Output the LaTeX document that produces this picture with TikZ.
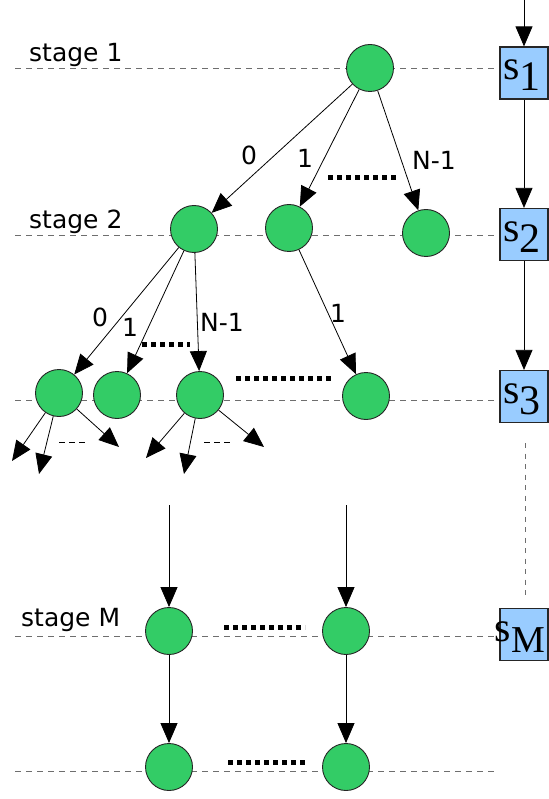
\documentclass[tikz,border=0pt]{standalone}
\usepackage{fontspec}
\setmainfont{DejaVu Sans}
\newfontfamily\boxfont{Liberation Serif}
\usetikzlibrary{arrows.meta}
\definecolor{nodegreen}{RGB}{51,204,102}
\definecolor{boxblue}{RGB}{153,204,255}
\definecolor{linegray}{RGB}{110,110,110}
\tikzset{
  st/.style={circle,draw=black!85,line width=0.9pt,fill=nodegreen,minimum size=47pt,inner sep=0pt},
  sbox/.style={draw=black!85,line width=1.2pt,fill=boxblue,minimum width=48pt,minimum height=52pt,inner sep=0pt},
  arr/.style={-{Triangle[length=20pt,width=17pt]},line width=0.8pt},
  stageline/.style={dashed,dash pattern=on 6pt off 5pt,draw=linegray,line width=1pt},
  dots/.style={line width=5pt,dash pattern=on 5pt off 4pt},
  lbl/.style={font=\fontsize{25}{25}\selectfont,inner sep=0pt},
  slbl/.style={font=\fontsize{25}{25}\selectfont,inner sep=0pt,anchor=west},
  btxt/.style={inner sep=0pt,font=\boxfont\fontsize{42}{42}\selectfont}
}
\begin{document}
\begin{tikzpicture}[x=1pt,y=-1pt]
\useasboundingbox (0,0) rectangle (548,799);
% stage lines
\coordinate (l1a) at (15,69);  \coordinate (l1b) at (500,69);
\coordinate (l2a) at (15,236); \coordinate (l2b) at (500,236);
\coordinate (l3a) at (15,400); \coordinate (l3b) at (500,400);
\coordinate (lMa) at (15,636); \coordinate (lMb) at (500,636);
\coordinate (l5a) at (15,771); \coordinate (l5b) at (497,771);
\draw[stageline] (l1a) -- (l1b);
\draw[stageline] (l2a) -- (l2b);
\draw[stageline] (l3a) -- (l3b);
\draw[stageline] (lMa) -- (lMb);
\draw[stageline] (l5a) -- (l5b);
% stage labels
\node[slbl] (t1) at (29,55) {stage 1};
\node[slbl] (t2) at (29,222) {stage 2};
\node[slbl] (tM) at (21,620) {stage M};
% boxes
\node[sbox] (s1) at (524,73) {};
\node[sbox] (s2) at (524,234.5) {};
\node[sbox] (s3) at (524,396.5) {};
\node[sbox] (sM) at (524,634.5) {};
\node[btxt] (s1t) at (522,75) {s\raisebox{-11pt}{1}};
\node[btxt] (s2t) at (522,237) {s\raisebox{-11pt}{2}};
\node[btxt] (s3t) at (522,399) {s\raisebox{-11pt}{3}};
\node[btxt] (sMt) at (520,637) {s\raisebox{-11pt}{\fontsize{38}{38}\selectfont M}};
\coordinate (top) at (524,0);
\draw[arr] (top) -- (s1.north);
\draw[arr] (s1.south) -- (s2.north);
\draw[arr] (s2.south) -- (s3.north);
\coordinate (vd1) at (525,443);
\coordinate (vd2) at (525,598);
\draw[draw=linegray,line width=1pt,dash pattern=on 5pt off 5.5pt] (vd1) -- (vd2);
% nodes
\node[st] (a) at (370,68) {};
\node[st] (b0) at (194,229) {};
\node[st] (b1) at (289,228) {};
\node[st] (b2) at (426,233) {};
\node[st] (c0) at (59,393) {};
\node[st] (c1) at (117,395) {};
\node[st] (c2) at (200,395) {};
\node[st] (c3) at (366,396) {};
\node[st] (m0) at (169,631) {};
\node[st] (m1) at (346,631) {};
\node[st] (n0) at (169,767) {};
\node[st] (n1) at (346,767) {};
% tree edges
\draw[arr] (a) -- (b0);
\draw[arr] (a) -- (b1);
\draw[arr] (a) -- (b2);
\node[lbl] (la0) at (249,155) {0};
\node[lbl] (la1) at (305,158) {1};
\node[lbl] (la2) at (434,160) {N-1};
\coordinate (da1) at (328,178); \coordinate (da2) at (397,178);
\draw[dots] (da1) -- (da2);
\draw[arr] (b0) -- (c0);
\draw[arr] (b0) -- (c1);
\draw[arr] (b0) -- (c2);
\draw[arr] (b1) -- (c3);
\node[lbl] (lb0) at (100,317) {0};
\node[lbl] (lb1) at (130,327) {1};
\node[lbl] (lb2) at (222,322) {N-1};
\node[lbl] (lb3) at (338,313) {1};
\coordinate (db1) at (142,344); \coordinate (db2) at (190,344);
\draw[dots] (db1) -- (db2);
\coordinate (dc1) at (236,378); \coordinate (dc2) at (334,378);
\draw[dots] (dc1) -- (dc2);
% small arrows from stage 3
\coordinate (e1) at (12,461); \coordinate (e2) at (39,474); \coordinate (e3) at (119,447);
\coordinate (f1) at (146,458); \coordinate (f2) at (184,474); \coordinate (f3) at (264,447);
\draw[arr] (c0) -- (e1);
\draw[arr] (c0) -- (e2);
\draw[arr] (c0) -- (e3);
\draw[arr] (c2) -- (f1);
\draw[arr] (c2) -- (f2);
\draw[arr] (c2) -- (f3);
\coordinate (g1) at (59,442); \coordinate (g2) at (87,442);
\coordinate (h1) at (204,442); \coordinate (h2) at (232,442);
\draw[line width=0.9pt,dash pattern=on 6pt off 4pt] (g1) -- (g2);
\draw[line width=0.9pt,dash pattern=on 6pt off 4pt] (h1) -- (h2);
% vertical arrows
\coordinate (v0) at (169,505); \coordinate (v1) at (346,505);
\draw[arr] (v0) -- (m0);
\draw[arr] (v1) -- (m1);
\draw[arr] (m0) -- (n0);
\draw[arr] (m1) -- (n1);
\coordinate (dm1) at (224,627); \coordinate (dm2) at (305,627);
\draw[dots] (dm1) -- (dm2);
\coordinate (dn1) at (228,762); \coordinate (dn2) at (308,762);
\draw[dots] (dn1) -- (dn2);
\end{tikzpicture}
\end{document}
